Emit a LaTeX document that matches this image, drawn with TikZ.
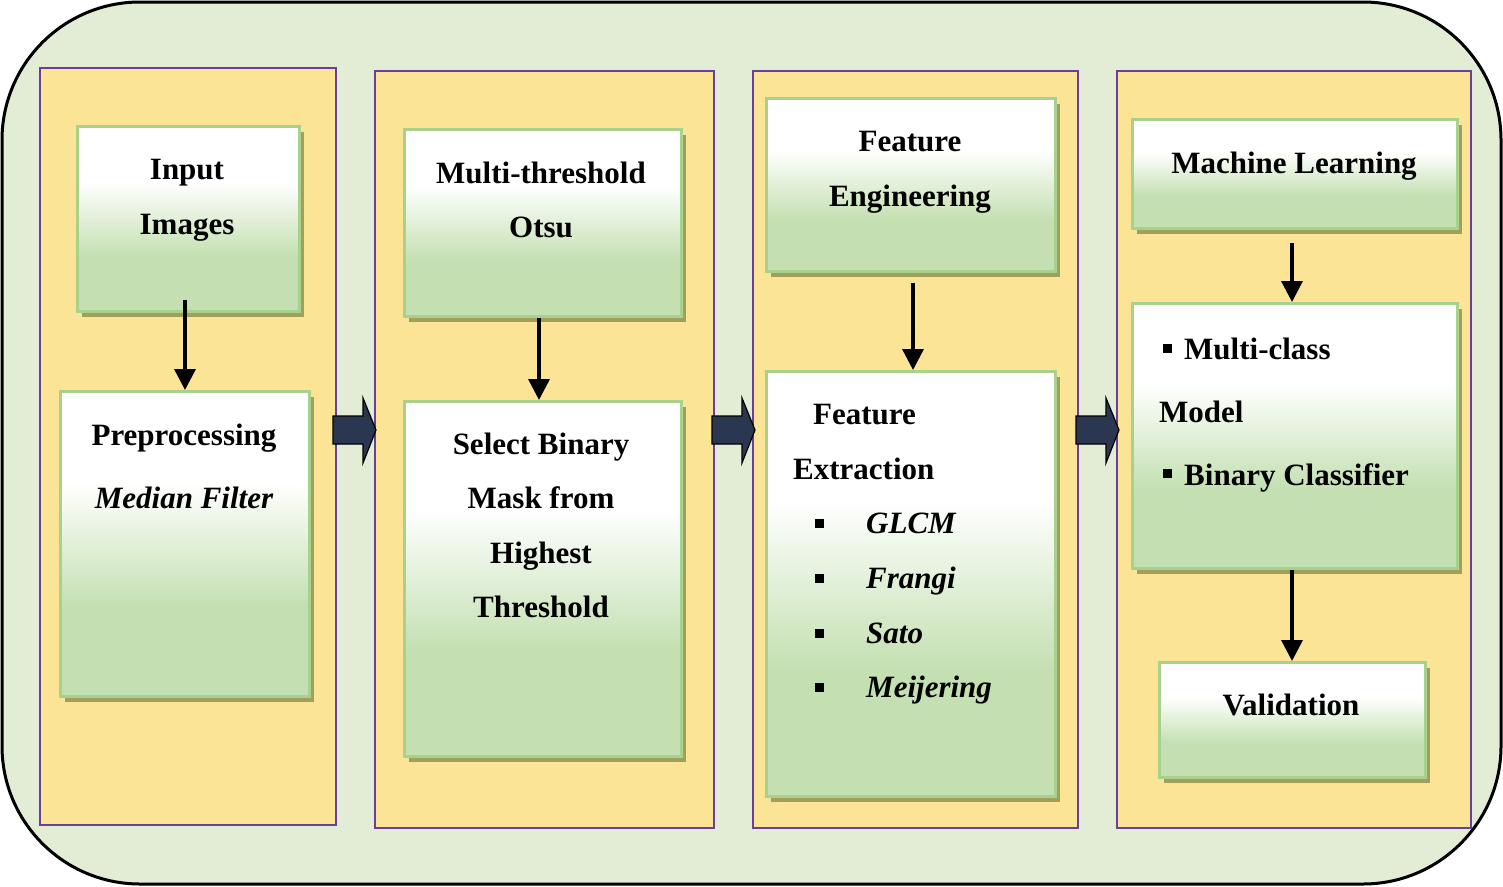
\documentclass[tikz,border=0pt]{standalone}
\usepackage{fontspec}
\setmainfont{Liberation Serif}
\usepackage{tikz}
\usetikzlibrary{arrows.meta}
\usetikzlibrary{shadows}
\usepackage{xcolor}
\definecolor{outerfill}{RGB}{227,237,214}
\definecolor{panelfill}{RGB}{252,228,150}
\definecolor{panelline}{RGB}{104,64,156}
\definecolor{cardline}{RGB}{168,210,140}
\definecolor{cardgreen}{RGB}{196,224,178}
\definecolor{shadowcol}{RGB}{160,160,92}
\definecolor{navy}{RGB}{43,55,80}
\pgfdeclareverticalshading{cardshade}{100bp}{color(0bp)=(cardgreen); color(25bp)=(cardgreen); color(40bp)=(cardgreen); color(60bp)=(white); color(100bp)=(white)}
\tikzset{
  frame/.style={draw=black, fill=outerfill, line width=3pt, rounded corners=138pt, minimum width=1499pt, minimum height=882pt, inner sep=0pt},
  stage/.style={draw=panelline, fill=panelfill, line width=1.8pt, inner sep=0pt, anchor=north west},
  card/.style={draw=cardline, line width=3pt, shade, shading=cardshade, inner sep=0pt, anchor=north west,
    drop shadow={shadow xshift=4pt, shadow yshift=-5pt, fill=shadowcol, opacity=1}},
  lbl/.style={font=\fontsize{31}{37}\selectfont\bfseries, anchor=base, inner sep=0pt},
  lbll/.style={lbl, anchor=base west},
  bul/.style={fill=black, minimum size=9pt, inner sep=0pt},
  flow/.style={line width=3.4pt, -{Triangle[width=21pt,length=21pt]}},
  bigarrow/.style={fill=navy, draw=black, line width=1.2pt},
}
\begin{document}
\begin{tikzpicture}[x=1pt, y=-1pt]
  \useasboundingbox (0,0) rectangle (1503,886);
  \node[frame] (frame) at (751.5,443) {}; %
  % four stages
  \node[stage, minimum width=296pt, minimum height=757pt] (p1) at (39,67) {}; %
  \node[stage, minimum width=339pt, minimum height=757pt] (p2) at (374,70) {}; %
  \node[stage, minimum width=325pt, minimum height=757pt] (p3) at (752,70) {}; %
  \node[stage, minimum width=354pt, minimum height=757pt] (p4) at (1116,70) {}; %
  \foreach \x in {333,712,1076}
    \filldraw[bigarrow] (\x,416) -- ++(30,0) -- ++(0,-18) -- ++(13,32) -- ++(-13,33) -- ++(0,-19) -- ++(-30,0) -- cycle;
  % boxes
  \node[card, minimum width=222pt, minimum height=185pt] (inp) at (76,125) {}; %
  \node[card, minimum width=249pt, minimum height=305pt] (pre) at (59,390) {}; %
  \node[card, minimum width=277pt, minimum height=187pt] (otsu) at (403,128) {}; %
  \node[card, minimum width=277pt, minimum height=355pt] (mask) at (403,400) {}; %
  \node[card, minimum width=289pt, minimum height=173pt] (feng) at (765,97) {}; %
  \node[card, minimum width=289pt, minimum height=425pt] (fext) at (765,370) {}; %
  \node[card, minimum width=325pt, minimum height=109pt] (ml) at (1131,118) {}; %
  \node[card, minimum width=325pt, minimum height=265pt] (mc) at (1131,302) {}; %
  \node[card, minimum width=266pt, minimum height=115pt] (val) at (1158,661) {}; %
  \draw[flow] ([yshift=13pt]pre.north |- inp.south) -- (pre.north); %
  \draw[flow] ([xshift=-4pt]otsu.south) -- ([xshift=-4pt]mask.north); %
  \draw[flow] ([xshift=2pt,yshift=-10pt]feng.south) -- ([xshift=2pt]fext.north); %
  \draw[flow] ([xshift=-3pt,yshift=-13pt]ml.south) -- ([xshift=-3pt]mc.north); %
  \draw[flow] ([xshift=-3pt]mc.south) -- ([xshift=-3pt]mc.south |- val.north); %
  % texts
  \node[lbl] (t1) at (187,179) {Input}; %
  \node[lbl] (t2) at (187,234) {Images}; %
  \node[lbl] (t3) at (184,445) {Preprocessing}; %
  \node[lbl] (t4) at (184,508) {\itshape Median Filter}; %
  \node[lbl] (t5) at (541,183) {Multi-threshold}; %
  \node[lbl] (t6) at (541,237) {Otsu}; %
  \node[lbl] (t7) at (541,454) {Select Binary}; %
  \node[lbl] (t8) at (541,508) {Mask from}; %
  \node[lbl] (t9) at (541,563) {Highest}; %
  \node[lbl] (t10) at (541,617) {Threshold}; %
  \node[lbl] (t11) at (910,151) {Feature}; %
  \node[lbl] (t12) at (910,206) {Engineering}; %
  \node[lbll] (t13) at (813,424) {Feature}; %
  \node[lbll] (t14) at (793,479) {Extraction}; %
  \foreach \y/\name [count=\i] in {533/GLCM,588/Frangi,643/Sato,697/Meijering} {
    \node[bul] (b\i) at (819,\y-10) {};
    \node[lbll] (f\i) at (866,\y) {\itshape \name};
  }
  \node[lbl] (t15) at (1294,173) {Machine Learning}; %
  \node[bul] (m1) at (1167,348) {}; %
  \node[lbll] (t16) at (1184,359) {Multi-class}; %
  \node[lbll] (t17) at (1159,422) {Model}; %
  \node[bul] (m2) at (1167,473) {}; %
  \node[lbll] (t18) at (1184,485) {Binary Classifier}; %
  \node[lbl] (t19) at (1291,715) {Validation}; %
\end{tikzpicture}
\end{document}
